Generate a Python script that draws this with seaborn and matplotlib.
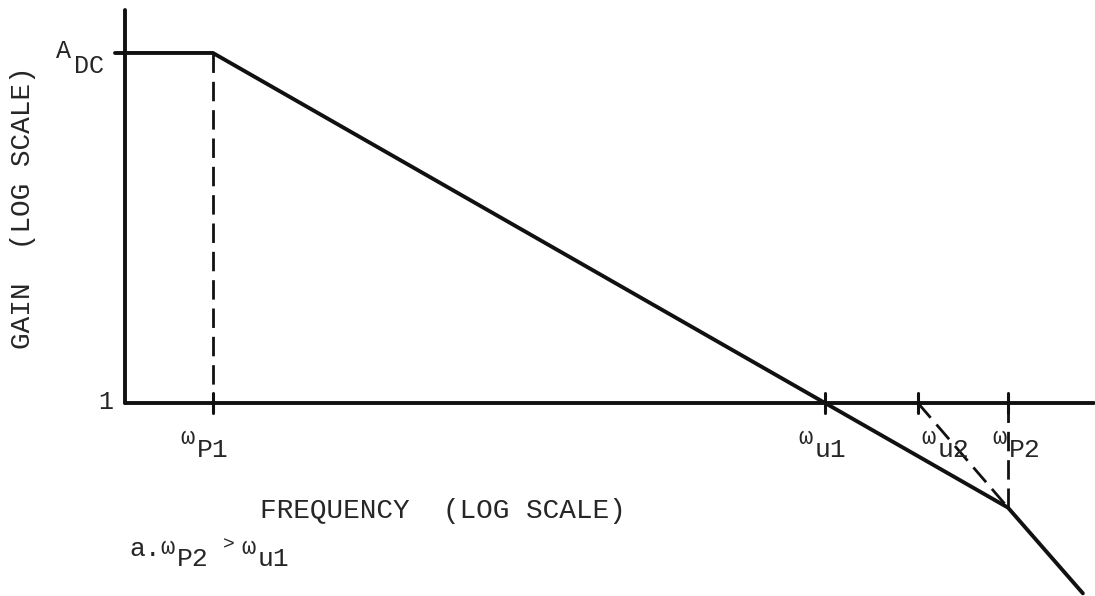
import matplotlib
matplotlib.use("Agg")
import matplotlib.pyplot as plt
import seaborn as sns

# asymptotic gain curve (log-log)
W_P1 = 10.0       # first pole
W_U1 = 1.0e4      # unity gain crossing, one pole
W_U2 = 2.86e4     # unity gain crossing, two-pole asymptote
W_P2 = 7.9e4      # second pole
A_DC = 1000.0     # dc gain

curve_freq = [3.7, W_P1, W_P2, 1.84e5]
curve_gain = [A_DC, A_DC, 0.127, 0.0234]

asym_freq = [W_U2, W_P2]
asym_gain = [1.0, 0.127]

tick_freq = [W_P1, W_U1, W_U2, W_P2]

# axis extents
F_AXIS = 3.7
F_END = 2.08e5
G_TOP = 2335.0

sns.set_style("white")
plt.rcParams["font.family"] = ["Liberation Mono", "DejaVu Sans Mono"]

W, H = 1095, 596
fig = plt.figure(figsize=(W / 100, H / 100), dpi=100)
ax = fig.add_axes([0, 0, 1, 1])
ax.set_xscale("log")
ax.set_yscale("log")
ax.set_xlim(0.904, 2.11e5)
ax.set_ylim(0.0222, 2844)
ax.axis("off")

ink = "#111111"
txt = "#262626"
lw = 2.8
dash = (0, (7, 3.2))


def seg(xs, ys, **kw):
    sns.lineplot(x=xs, y=ys, ax=ax, color=ink, estimator=None, sort=False, **kw)


# axes drawn as data lines
seg([F_AXIS, F_AXIS], [G_TOP, 1.0], lw=lw)
seg([F_AXIS, F_END], [1.0, 1.0], lw=lw)
seg([3.3, F_AXIS], [A_DC, A_DC], lw=lw)

# gain curve
seg(curve_freq, curve_gain, lw=lw)

# dashed guides
seg([W_P1, W_P1], [A_DC, 1.0], lw=2.0, linestyle=dash)
seg([W_P2, W_P2], [1.0, 0.127], lw=2.0, linestyle=dash)
seg(asym_freq, asym_gain, lw=2.0, linestyle=dash)

# tick marks on frequency axis
for f in tick_freq:
    seg([f, f], [1.22, 0.82], lw=2.2)


def px(x, y):
    return x / W, 1 - y / H


def omega(x, y, sub, size=19):
    # small raised omega followed by the subscript letters
    fig.text(*px(x - 1, y - 9), "ω", fontsize=17, color=txt,
             ha="left", va="center")
    fig.text(*px(x + 16, y + 3), sub, fontsize=size, color=txt,
             ha="left", va="center")


omega(181, 447, "P1")
omega(799, 447, "u1")
omega(922, 447, "u2")
omega(993, 447, "P2")

# gain axis labels
fig.text(*px(56, 51), "A", fontsize=18, color=txt, ha="left", va="center")
fig.text(*px(74, 66), "DC", fontsize=18, color=txt, ha="left", va="center")
fig.text(*px(106, 402), "1", fontsize=18, color=txt, ha="center",
         va="center")

fig.text(*px(23, 208), "GAIN  (LOG SCALE)", fontsize=20, color=txt,
         rotation=90, ha="center", va="center")
fig.text(*px(443, 511), "FREQUENCY  (LOG SCALE)", fontsize=20, color=txt,
         ha="center", va="center")

fig.text(*px(129, 549), "a.", fontsize=19, color=txt, ha="left", va="center")
omega(161, 556, "P2")
fig.text(*px(223, 545), ">", fontsize=14, color=txt, ha="left", va="center")
omega(242, 556, "u1")

fig.savefig("out.png", dpi=100, facecolor="white")
